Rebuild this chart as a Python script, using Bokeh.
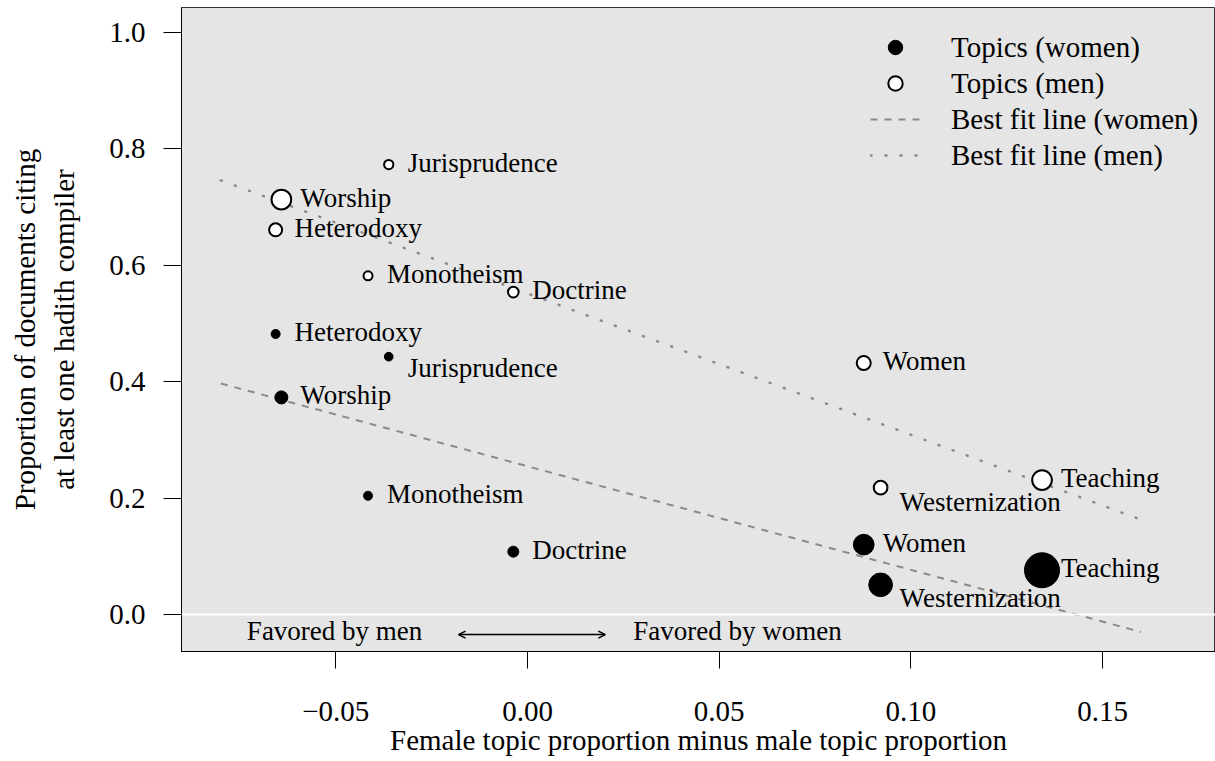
import numpy as np
from bokeh.plotting import figure
from bokeh.models import (ColumnDataSource, FixedTicker, Span, Label, Legend, LegendItem,
                          Arrow, OpenHead, Range1d, PrintfTickFormatter, LinearAxis)
from bokeh.embed import file_html
from bokeh.resources import INLINE
from bokeh.core.properties import value

# ---------------- data ----------------
topics = ["Heterodoxy", "Worship", "Jurisprudence", "Monotheism",
          "Doctrine", "Women", "Westernization", "Teaching"]
topic_diff = [-0.0657, -0.0642, -0.0362, -0.0416, -0.0037, 0.0877, 0.0921, 0.1342]
women_prop = [0.482, 0.373, 0.443, 0.204, 0.108, 0.120, 0.051, 0.076]
men_prop = [0.661, 0.713, 0.773, 0.582, 0.554, 0.432, 0.218, 0.231]
women_cex = [0.9, 1.3, 0.87, 0.9, 1.1, 2.07, 2.37, 3.5]
men_cex = [1.3, 1.97, 0.93, 0.9, 1.07, 1.4, 1.37, 1.97]

fit_x = [-0.08, 0.16]
fit_women = [0.397, -0.030]
fit_men = [0.746, 0.163]

x_ticks = [-0.05, 0.0, 0.05, 0.10, 0.15]
x_tick_labels = ["\u22120.05", "0.00", "0.05", "0.10", "0.15"]
y_ticks = [0.0, 0.2, 0.4, 0.6, 0.8, 1.0]
y_tick_labels = ["0.0", "0.2", "0.4", "0.6", "0.8", "1.0"]

legend_labels = ["Topics (women)", "Topics (men)", "Best fit line (women)", "Best fit line (men)"]
favored_labels = ["Favored by men", "Favored by women"]
x_title = "Female topic proportion minus male topic proportion"
y_title = ["Proportion of documents citing", "at least one hadith compiler"]

# ---------------- layout / style ----------------
FONT = "Liberation Serif"
CEX_PX = 10.0
# label baseline offsets (screen px, + = down)
women_label_dy = [-2, -2, 11, -2, -2, -2, 13, -2]
men_label_dy = [-2, -2, -2, -2, -2, -2, 14, -2]

src_w = ColumnDataSource(dict(x=topic_diff, y=women_prop, label=topics,
                              size=[c * CEX_PX for c in women_cex], dy=women_label_dy))
src_m = ColumnDataSource(dict(x=topic_diff, y=men_prop, label=topics,
                              size=[c * CEX_PX for c in men_cex], dy=men_label_dy))

p = figure(width=1215, height=761, output_backend="svg", toolbar_location=None,
           x_range=Range1d(-0.09025, 0.17945), y_range=Range1d(-0.06357, 1.04296),
           min_border_left=181, min_border_right=0, min_border_top=7, min_border_bottom=110)

p.background_fill_color = "#e5e5e5"
p.border_fill_color = "white"
p.outline_line_color = "#333333"
p.outline_line_width = 1
p.grid.visible = False

# axes
for ax, ticks, labels, fmt in ((p.xaxis[0], x_ticks, x_tick_labels, "%.2f"),
                               (p.yaxis[0], y_ticks, y_tick_labels, "%.1f")):
    ax.ticker = FixedTicker(ticks=ticks)
    ax.formatter = PrintfTickFormatter(format=fmt)
    ax.major_label_overrides = {float(t): l for t, l in zip(ticks, labels)}
    ax.minor_tick_line_color = None
    ax.major_tick_in = 0
    ax.axis_line_color = "black"
    ax.major_tick_line_color = "black"
    ax.major_label_text_font = FONT
    ax.major_label_text_font_size = "29px"
    ax.major_label_text_color = "black"
    ax.axis_label_text_font = FONT
    ax.axis_label_text_font_size = "29px"
    ax.axis_label_text_font_style = "normal"
    ax.axis_label_text_color = "black"
p.xaxis.major_tick_out = 17
p.xaxis.major_label_standoff = 33
p.xaxis.axis_label = x_title
p.xaxis.axis_label_standoff = 0
p.yaxis.major_tick_out = 18
p.yaxis.major_label_standoff = 18
p.yaxis.axis_label = y_title[1]
p.yaxis.axis_label_standoff = 26

y_title_axis = LinearAxis(ticker=FixedTicker(ticks=[]), axis_line_color=None,
                          major_tick_out=0, major_tick_in=0, minor_tick_line_color=None,
                          major_label_standoff=0, axis_label=y_title[0],
                          axis_label_standoff=5, axis_label_text_font=FONT,
                          axis_label_text_font_size="29px",
                          axis_label_text_font_style="normal",
                          axis_label_text_color="black")
p.add_layout(y_title_axis, "left")

# zero line
p.add_layout(Span(location=0, dimension="width", line_color="white", line_width=2))

# best fit lines
r_fw = p.line(fit_x, fit_women, line_color="#8a8a8a", line_width=2, line_dash="7 7")
r_fm = p.line(fit_x, fit_men, line_color="#8a8a8a", line_width=2.5, line_dash="1 14",
              line_cap="round")

# points
r_w = p.scatter("x", "y", size="size", source=src_w, marker="circle",
                fill_color="black", line_color="black", line_width=1)
r_m = p.scatter("x", "y", size="size", source=src_m, marker="circle",
                fill_color="white", line_color="black", line_width=2)

# point labels
for src in (src_w, src_m):
    p.text("x", "y", text="label", source=src, x_offset=19, y_offset="dy",
           text_align="left", text_baseline="alphabetic",
           text_font=value(FONT), text_font_size="27px", text_color="black")

# favored annotation
p.add_layout(Arrow(x_start=-0.018, y_start=-0.0345, x_end=0.0203, y_end=-0.0345,
                   line_width=1.5, line_color="black",
                   start=OpenHead(size=7, line_width=1.5, line_color="black"),
                   end=OpenHead(size=7, line_width=1.5, line_color="black")))
p.add_layout(Label(x=-0.02, y=-0.0275, x_offset=-28.5, text=favored_labels[0],
                   text_align="right", text_baseline="alphabetic",
                   text_font=FONT, text_font_size="27px", text_color="black"))
p.add_layout(Label(x=0.02, y=-0.0275, x_offset=29, text=favored_labels[1],
                   text_align="left", text_baseline="alphabetic",
                   text_font=FONT, text_font_size="27px", text_color="black"))

# legend
legend = Legend(items=[LegendItem(label=legend_labels[0], renderers=[r_w]),
                       LegendItem(label=legend_labels[1], renderers=[r_m]),
                       LegendItem(label=legend_labels[2], renderers=[r_fw]),
                       LegendItem(label=legend_labels[3], renderers=[r_fm])],
                location=(689, 478), orientation="vertical",
                glyph_width=50, glyph_height=36, label_height=36, label_width=10,
                spacing=0, padding=0, margin=0, label_standoff=31,
                border_line_color=None, background_fill_alpha=0,
                label_text_font=FONT, label_text_font_size="29px",
                label_text_color="black")
p.add_layout(legend)

open("out.html", "w").write(file_html(p, INLINE))
